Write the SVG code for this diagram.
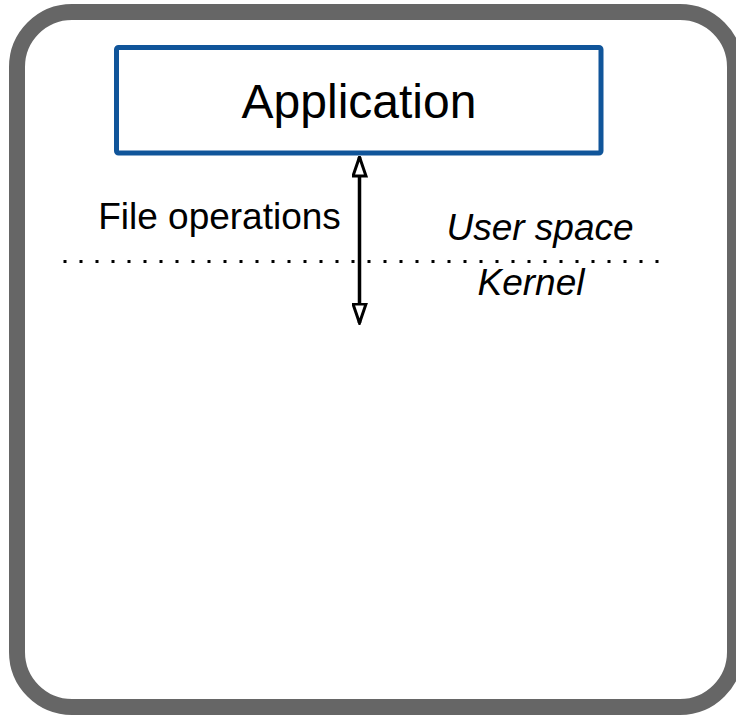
<svg xmlns="http://www.w3.org/2000/svg" width="736" height="716" viewBox="0 0 736 716">
<style>
.lbl{font-family:"Liberation Sans",Arial,sans-serif;fill:#000}
.it{font-style:italic}
</style>
<defs>
<marker id="open" viewBox="0 0 22 16" refX="20.5" refY="8" markerWidth="22" markerHeight="16" markerUnits="userSpaceOnUse" orient="auto-start-reverse">
<path d="M20.5 8 L1.5 1.5 L1.5 14.5 Z" fill="#fff" stroke="#000" stroke-width="3" stroke-linejoin="miter"/>
</marker>
</defs>
<rect width="736" height="716" fill="#fff"/>
<g id="frame">
<rect x="17" y="12" width="718" height="695" rx="55" ry="55" fill="#fff" stroke="#666666" stroke-width="16"/>
</g>
<g id="application">
<rect x="116.5" y="47.5" width="484.5" height="105.5" rx="2" fill="#fff" stroke="#10559a" stroke-width="5"/>
<text class="lbl" x="359" y="118" font-size="48" text-anchor="middle">Application</text>
</g>
<g id="boundary">
<line x1="63.5" y1="261.5" x2="662" y2="261.5" stroke="#000" stroke-width="3" stroke-dasharray="3 13"/>
<text class="lbl it" x="540" y="240" font-size="37" text-anchor="middle">User space</text>
<text class="lbl it" x="531" y="295" font-size="37" text-anchor="middle">Kernel</text>
</g>
<g id="connectors">
<line x1="359.5" y1="157" x2="359.5" y2="323" stroke="#000" stroke-width="3.5" marker-start="url(#open)" marker-end="url(#open)"/>
<text class="lbl" x="219.5" y="229" font-size="37" text-anchor="middle">File operations</text>
</g>
</svg>
